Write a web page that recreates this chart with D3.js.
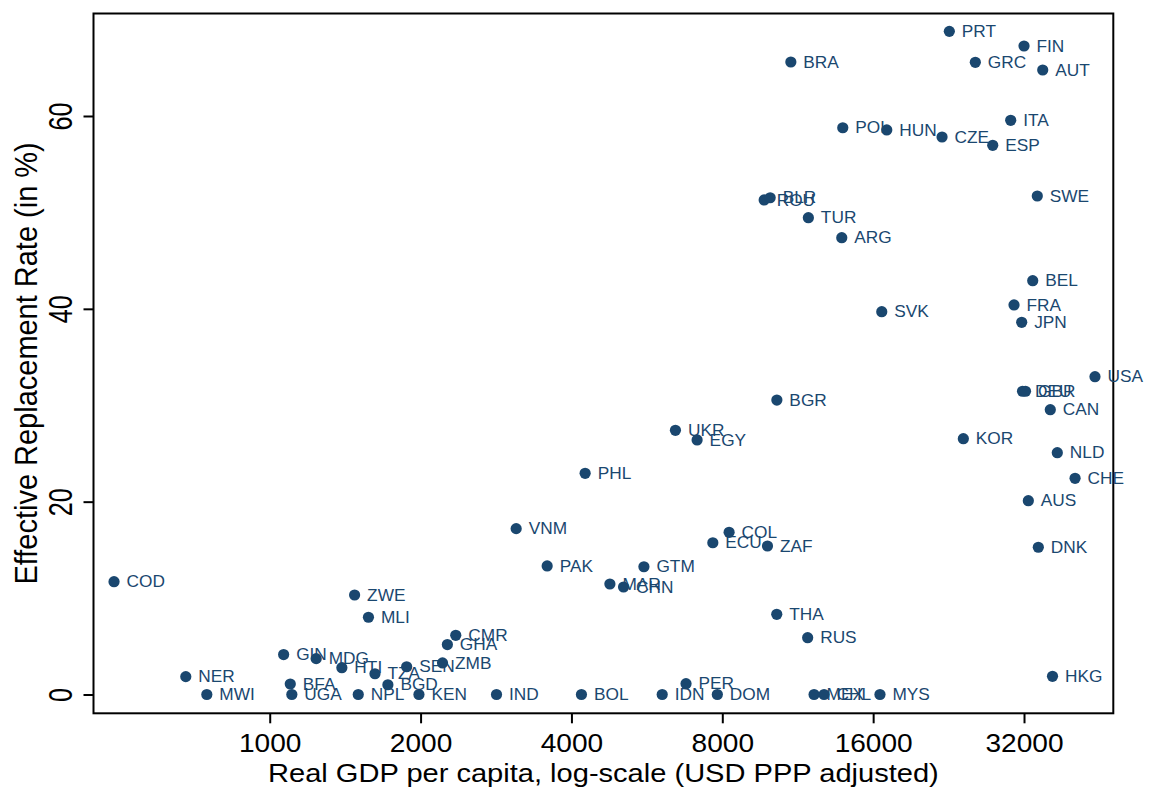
<!DOCTYPE html>
<html>
<head>
<meta charset="utf-8">
<script src="https://cdn.jsdelivr.net/npm/d3@7/dist/d3.min.js"></script>
<style>
  html, body { margin: 0; padding: 0; background: #ffffff; }
  svg { display: block; }
  text { font-family: Arial, "Liberation Sans", Helvetica, sans-serif; }
</style>
</head>
<body>
<svg id="chart" width="1150" height="791"></svg>
<script>
// ---- data ----
const countries = ["COD","NER","MWI","GIN","BFA","UGA","MDG","HTI","ZWE","NPL","MLI","TZA","BGD","SEN","KEN","ZMB","GHA","CMR","IND","VNM","PAK","BOL","PHL","MAR","CHN","GTM","IDN","UKR","PER","EGY","ECU","DOM","COL","ROU","BLR","ZAF","THA","BGR","BRA","RUS","TUR","MEX","CHL","ARG","POL","MYS","SVK","HUN","CZE","PRT","KOR","GRC","ESP","ITA","FRA","JPN","DEU","GBR","FIN","AUS","BEL","SWE","DNK","AUT","CAN","HKG","NLD","CHE","USA"];
const gdpPerCapita = [489,680,749,1066,1099,1107,1238,1393,1477,1502,1574,1622,1721,1876,1985,2212,2262,2351,2835,3103,3578,4188,4260,4773,5082,5581,6070,6450,6772,7126,7659,7820,8254,9697,9968,9846,10274,10280,10961,11842,11881,12195,12769,13851,13915,16509,16645,17032,21958,22706,24214,25587,27715,30102,30563,31662,31781,32220,32000,32640,33306,34015,34174,34870,36109,36476,37290,40461,44339];
const replacementRate = [11.70,1.85,0,4.14,1.09,0,3.72,2.78,10.32,0,8.01,2.15,1.01,2.88,0,3.27,5.18,6.14,0,17.20,13.33,0,22.94,11.46,11.15,13.25,0,27.40,1.12,26.40,15.74,0,16.82,51.29,51.52,15.40,8.32,30.54,65.60,5.89,49.45,0,0,47.38,58.78,0,39.70,58.55,57.82,68.78,26.53,65.57,56.96,59.55,40.40,38.60,31.45,31.45,67.26,20.10,42.92,51.70,15.27,64.77,29.54,1.89,25.08,22.42,32.96];
const xTicks = [1000,2000,4000,8000,16000,32000];
const yTicks = [0,20,40,60];
const xDomain = [445, 48230];
const yDomain = [-1.95, 70.63];
const xTitle = "Real GDP per capita, log-scale (USD PPP adjusted)";
const yTitle = "Effective Replacement Rate (in %)";

// ---- layout ----
const plot = { left: 93.5, right: 1113.3, top: 13.5, bottom: 713.3 };
const navy = "#1a476f";

const svg = d3.select("#chart");
svg.append("rect").attr("width", 1150).attr("height", 791).attr("fill", "#ffffff");

const x = d3.scaleLog().base(2).domain(xDomain).range([plot.left, plot.right]);
const y = d3.scaleLinear().domain(yDomain).range([plot.bottom, plot.top]);

// x axis
const xAxis = d3.axisBottom(x).tickValues(xTicks).tickFormat(d3.format("d")).tickSize(10).tickSizeOuter(0);
const gx = svg.append("g").attr("transform", `translate(0,${plot.bottom})`).call(xAxis);
gx.select(".domain").remove();
gx.selectAll(".tick line").attr("stroke", "#000").attr("stroke-width", 2);
gx.selectAll(".tick text")
  .attr("font-size", 26).attr("fill", "#000")
  .attr("dy", null).attr("y", null)
  .attr("transform", "translate(0,38.6) scale(1.08,1)");

// y axis (rotated labels, Stata-style tall glyphs)
const yAxis = d3.axisLeft(y).tickValues(yTicks).tickFormat(d3.format("d")).tickSize(10).tickSizeOuter(0);
const gy = svg.append("g").attr("transform", `translate(${plot.left},0)`).call(yAxis);
gy.select(".domain").remove();
gy.selectAll(".tick line").attr("stroke", "#000").attr("stroke-width", 2);
gy.selectAll(".tick text")
  .attr("font-size", 24).attr("fill", "#000")
  .attr("x", null).attr("dy", null)
  .attr("text-anchor", "middle")
  .attr("transform", "translate(-22,0) rotate(-90) scale(1.05,1.42)");

// frame
svg.append("rect")
  .attr("x", plot.left).attr("y", plot.top)
  .attr("width", plot.right - plot.left).attr("height", plot.bottom - plot.top)
  .attr("fill", "none").attr("stroke", "#000").attr("stroke-width", 2);

// points
const data = countries.map((c, i) => ({ c, gdp: gdpPerCapita[i], r: replacementRate[i] }));
const g = svg.append("g");
g.selectAll("circle").data(data).join("circle")
  .attr("cx", d => x(d.gdp)).attr("cy", d => y(d.r)).attr("r", 5.6)
  .attr("fill", navy);
g.selectAll("text").data(data).join("text")
  .attr("transform", d => `translate(${x(d.gdp) + 12.5},${y(d.r) + 5.7}) scale(1.08,1)`)
  .attr("font-size", 16).attr("fill", navy)
  .text(d => d.c);

// titles
svg.append("text")
  .attr("transform", `translate(${(plot.left + plot.right) / 2},781.5) scale(1.14,1)`)
  .attr("text-anchor", "middle").attr("font-size", 25.5).attr("fill", "#000").text(xTitle);
svg.append("text")
  .attr("transform", `translate(37,${(plot.top + plot.bottom) / 2}) rotate(-90) scale(1.115,1.18)`)
  .attr("text-anchor", "middle").attr("font-size", 26).attr("fill", "#000").text(yTitle);
</script>
</body>
</html>
